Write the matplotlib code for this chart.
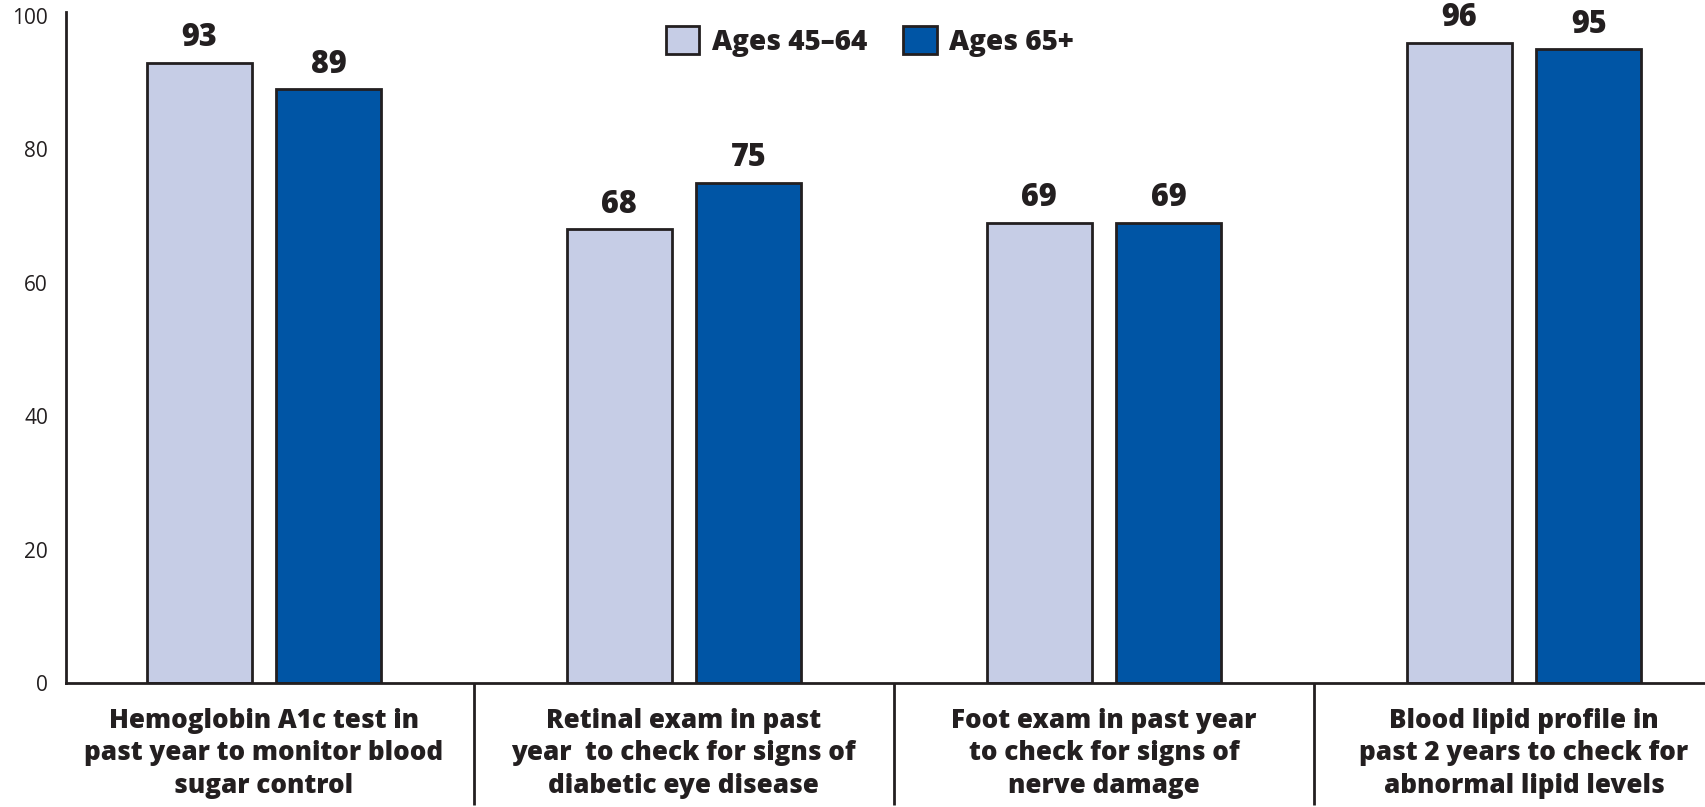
import matplotlib
matplotlib.use("Agg")
import matplotlib.pyplot as plt
import matplotlib.transforms as mtransforms
from matplotlib.patches import Patch
import numpy as np

# Diabetes care measures by age group (percent)
categories = [
    "Hemoglobin A1c test in\npast year to monitor blood\nsugar control",
    "Retinal exam in past\nyear  to check for signs of\ndiabetic eye disease",
    "Foot exam in past year\nto check for signs of\nnerve damage",
    "Blood lipid profile in\npast 2 years to check for\nabnormal lipid levels",
]
series_names = ["Ages 45\u201364", "Ages 65+"]
ages_45_64 = [93, 68, 69, 96]
ages_65_plus = [89, 75, 69, 95]
y_ticks = [0, 20, 40, 60, 80, 100]

light = "#c6cde6"
dark = "#0055a5"
ink = "#231f20"
font = "Open Sans"

plt.rcParams["font.family"] = [font, "DejaVu Sans"]

fig = plt.figure(figsize=(17.05, 8.07), dpi=100)
W, H = 1705, 807
ax = fig.add_axes([66 / W, (H - 683) / H, 1 - 66 / W, (683 - 12) / H])

x = np.arange(len(categories))
bw = 0.25
off = 0.154
b1 = ax.bar(x - off, ages_45_64, bw, color=light, edgecolor=ink, linewidth=2)
b2 = ax.bar(x + off, ages_65_plus, bw, color=dark, edgecolor=ink, linewidth=2)

for bars, vals in ((b1, ages_45_64), (b2, ages_65_plus)):
    for r, v in zip(bars, vals):
        ax.annotate(f"{v}", (r.get_x() + r.get_width() / 2, v),
                    xytext=(0, 6), textcoords="offset points",
                    ha="center", va="bottom", fontsize=22,
                    fontweight="heavy", color=ink)

ax.set_xlim(-0.471, 3.431)
ax.set_ylim(0, 100.6)
ax.set_yticks(y_ticks)
ax.set_yticklabels([str(t) for t in y_ticks], fontsize=15, color=ink)
ax.tick_params(axis="y", length=0, pad=13)

ax.set_xticks(x)
ax.set_xticklabels(categories, fontsize=18.7, fontweight="heavy", color=ink,
                   linespacing=1.32)
ax.tick_params(axis="x", length=0, pad=18)

for s in ("top", "right"):
    ax.spines[s].set_visible(False)
for s in ("left", "bottom"):
    ax.spines[s].set_color(ink)
    ax.spines[s].set_linewidth(2)

# group dividers below the baseline
trans = mtransforms.blended_transform_factory(ax.transData, ax.transAxes)
for xs in (0.5, 1.5, 2.5):
    ax.plot([xs, xs], [0, -0.182], transform=trans, color=ink, lw=2,
            clip_on=False, solid_capstyle="butt")

handles = [Patch(facecolor=light, edgecolor=ink, linewidth=2),
           Patch(facecolor=dark, edgecolor=ink, linewidth=2)]
leg = ax.legend(handles, series_names, loc="upper left",
                bbox_to_anchor=(641 / W, 1 - 1 / H), bbox_transform=fig.transFigure,
                ncol=2, frameon=False, handlelength=1.2, handleheight=1.2,
                handletextpad=0.45, columnspacing=1.3,
                prop={"family": font, "weight": "heavy", "size": 20})
for t in leg.get_texts():
    t.set_color(ink)

fig.savefig("out.png", dpi=100)
